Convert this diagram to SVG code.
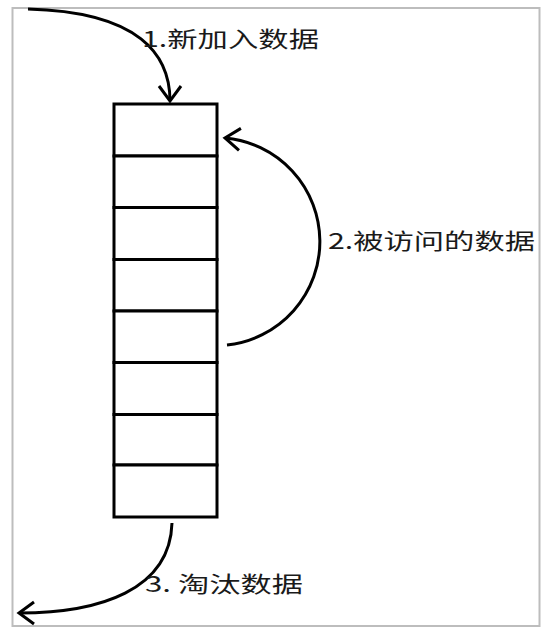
<svg xmlns="http://www.w3.org/2000/svg" width="548" height="631" viewBox="0 0 548 631">
<defs>
<style>
.frame{fill:none;stroke:#bdbdbd;stroke-width:2}
.cell{fill:#fff;stroke:#000;stroke-width:3}
.conn{fill:none;stroke:#000;stroke-width:3}
.lbl{font-family:"Noto Sans CJK SC","Noto Sans",sans-serif;font-size:22px;fill:#1a1a1a}
</style>
<marker id="arr" markerUnits="userSpaceOnUse" viewBox="-18 -13 22 26" markerWidth="22" markerHeight="26" refX="0" refY="0" orient="auto">
<path d="M-15,-11 L0,0 L-15,11" fill="none" stroke="#000" stroke-width="3"/>
</marker>
</defs>
<rect x="0" y="0" width="548" height="631" fill="#fff"/>
<rect class="frame" x="12.5" y="8" width="527" height="618"/>
<g id="stack">
<g id="cell1"><rect class="cell" x="114" y="104" width="103" height="52"/></g>
<g id="cell2"><rect class="cell" x="114" y="156" width="103" height="51.5"/></g>
<g id="cell3"><rect class="cell" x="114" y="207.5" width="103" height="52"/></g>
<g id="cell4"><rect class="cell" x="114" y="259.5" width="103" height="51.5"/></g>
<g id="cell5"><rect class="cell" x="114" y="311" width="103" height="51.5"/></g>
<g id="cell6"><rect class="cell" x="114" y="362.5" width="103" height="52"/></g>
<g id="cell7"><rect class="cell" x="114" y="414.5" width="103" height="50.5"/></g>
<g id="cell8"><rect class="cell" x="114" y="465" width="103" height="52"/></g>
</g>
<g id="connectors">
<path class="conn" d="M28,9 C140,12 170,55 170,101" marker-end="url(#arr)"/>
<path class="conn" d="M227,345 A104,104 0 0 0 225,138" marker-end="url(#arr)"/>
<path class="conn" d="M172,523 C170,590 100,613 19,613" marker-end="url(#arr)"/>
</g>
<g id="labels">
<text class="lbl" x="142" y="47" textLength="177" lengthAdjust="spacingAndGlyphs">1.新加入数据</text>
<text class="lbl" x="328" y="249" textLength="207" lengthAdjust="spacingAndGlyphs">2.被访问的数据</text>
<text class="lbl" x="145" y="592" textLength="158" lengthAdjust="spacingAndGlyphs">3. 淘汰数据</text>
</g>
</svg>
